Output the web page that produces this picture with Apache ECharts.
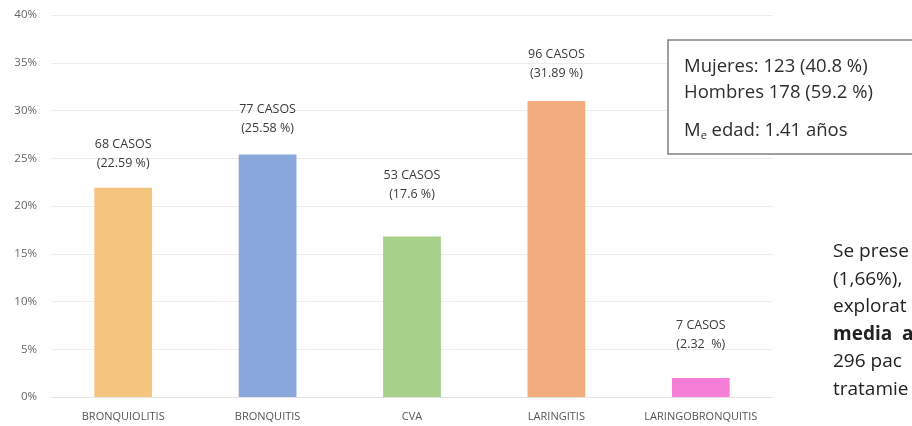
<!DOCTYPE html>
<html>
<head>
<meta charset="utf-8">
<script src="https://cdn.jsdelivr.net/npm/echarts@6/dist/echarts.min.js"></script>
<style>
html,body{margin:0;padding:0;background:#fff;}
#chart{width:912px;height:426px;}
</style>
</head>
<body>
<div id="chart"></div>
<script>
// Data
const categories = ['BRONQUIOLITIS', 'BRONQUITIS', 'CVA', 'LARINGITIS', 'LARINGOBRONQUITIS'];
const barValues = [21.9, 25.4, 16.8, 31.0, 2.0];
const casos = [68, 77, 53, 96, 7];
const pctLabels = ['22.59 %', '25.58 %', '17.6 %', '31.89 %', '2.32  %'];
const yTicks = [0, 5, 10, 15, 20, 25, 30, 35, 40];
const boxLines = ['Mujeres: 123 (40.8 %)', 'Hombres 178 (59.2 %)'];
const sideText = ['Se prese', '(1,66%),', 'explorat', 'media  a', '296 pac', 'tratamie'];

// Styles
const barColors = ['#F5C57F', '#8AA7DB', '#A7D08B', '#F2AC7E', '#F57ED6'];
const labelGaps = [15, 16, 33, 18, 24];
const FONT = '"Open Sans", Lato, sans-serif';

const chart = echarts.init(document.getElementById('chart'), null, {renderer: 'canvas'});

const seriesData = barValues.map((v, i) => ({
  value: v,
  itemStyle: {color: barColors[i]},
  label: {distance: labelGaps[i]}
}));

const option = {
  backgroundColor: '#ffffff',
  animation: false,
  grid: {left: 51, right: 139, top: 15, bottom: 29, containLabel: false},
  xAxis: {
    type: 'category',
    data: categories,
    axisTick: {show: false},
    axisLine: {show: true, lineStyle: {color: '#e3e3e3', width: 1}},
    axisLabel: {interval: 0, hideOverlap: false, color: '#555555', fontSize: 11, fontFamily: FONT, margin: 14}
  },
  yAxis: {
    type: 'value',
    min: yTicks[0],
    max: yTicks[yTicks.length - 1],
    interval: yTicks[1] - yTicks[0],
    axisLine: {show: false},
    axisTick: {show: false},
    splitLine: {show: true, lineStyle: {color: '#ececec', width: 1}},
    axisLabel: {color: '#666666', fontSize: 11.5, fontFamily: FONT, margin: 14, formatter: '{value}%'}
  },
  series: [{
    type: 'bar',
    data: seriesData,
    barWidth: '40%',
    label: {
      show: true,
      position: 'top',
      color: '#3a3a3a',
      fontSize: 12.5,
      fontFamily: FONT,
      lineHeight: 19,
      formatter: (p) => casos[p.dataIndex] + ' CASOS\n(' + pctLabels[p.dataIndex] + ')'
    }
  }],
  graphic: [
    {
      type: 'rect',
      shape: {x: 668, y: 40, width: 270, height: 114},
      style: {fill: '#ffffff', stroke: '#808080', lineWidth: 1.5},
      z: 10
    },
    {
      type: 'text',
      x: 684, y: 54,
      style: {
        text: boxLines.join('\n'),
        font: '18.5px ' + FONT,
        fill: '#2e2e2e',
        lineHeight: 26
      },
      z: 11
    },
    {
      type: 'text',
      x: 684, y: 120,
      style: {
        text: '{m|M}{s|e}{m| edad: 1.41 años}',
        rich: {
          m: {fontSize: 18.5, fontFamily: FONT, fill: '#2e2e2e', color: '#2e2e2e'},
          s: {fontSize: 11, fontFamily: FONT, fill: '#2e2e2e', color: '#2e2e2e', padding: [10, 0, 0, 0]}
        }
      },
      z: 11
    },
    ...sideText.map((t, i) => ({
      type: 'text',
      x: 833,
      y: 242 + i * 27.6,
      style: {
        text: t,
        font: (i === 3 ? 'bold ' : '') + '19px ' + FONT,
        fill: '#222222'
      },
      z: 11
    }))
  ]
};

chart.setOption(option);
</script>
</body>
</html>
